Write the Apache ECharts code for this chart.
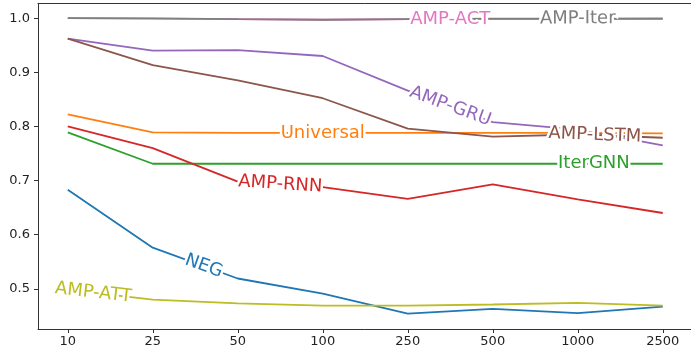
<!DOCTYPE html>
<html>
<head>
<meta charset="utf-8">
<script src="https://cdn.jsdelivr.net/npm/echarts@6/dist/echarts.min.js"></script>
<style>
  html, body { margin: 0; padding: 0; background: #fff; }
  #chart { width: 691px; height: 351px; }
</style>
</head>
<body>
<div id="chart"></div>
<script>
const categories = ["10", "25", "50", "100", "250", "500", "1000", "2500"];
const yTicks = [0.5, 0.6, 0.7, 0.8, 0.9, 1.0];

const neg = [0.683, 0.576, 0.519, 0.491, 0.454, 0.463, 0.455, 0.467];
const universal = [0.822, 0.789, 0.788, 0.788, 0.788, 0.788, 0.788, 0.787];
const iterGnn = [0.789, 0.731, 0.731, 0.731, 0.731, 0.731, 0.731, 0.731];
const ampRnn = [0.800, 0.760, 0.698, 0.688, 0.666, 0.693, 0.665, 0.640];
const ampGru = [0.962, 0.940, 0.941, 0.930, 0.866, 0.808, 0.794, 0.765];
const ampLstm = [0.962, 0.913, 0.885, 0.852, 0.796, 0.781, 0.785, 0.779];
const ampAct = [1.0, 0.999, 0.998, 0.997, 0.998, 0.998, 0.998, 0.998];
const ampIter = [1.0, 0.9995, 0.998, 0.997, 0.998, 0.999, 0.999, 0.9995];
const ampAtt = [0.498, 0.480, 0.473, 0.469, 0.469, 0.471, 0.474, 0.469];

// where each inline label sits, as a (fractional) category index
const lines = [
  { name: "NEG", data: neg, color: "#1f77b4", labelAt: 1.6 },
  { name: "Universal", data: universal, color: "#ff7f0e", labelAt: 3 },
  { name: "IterGNN", data: iterGnn, color: "#2ca02c", labelAt: 6.19 },
  { name: "AMP-RNN", data: ampRnn, color: "#d62728", labelAt: 2.5 },
  { name: "AMP-GRU", data: ampGru, color: "#9467bd", labelAt: 4.5 },
  { name: "AMP-LSTM", data: ampLstm, color: "#8c564b", labelAt: 6.2 },
  { name: "AMP-ACT", data: ampAct, color: "#e377c2", labelAt: 4.5 },
  { name: "AMP-Iter", data: ampIter, color: "#7f7f7f", labelAt: 6.0 },
  { name: "AMP-ATT", data: ampAtt, color: "#bcbd22", labelAt: 0.3 },
];

const chart = echarts.init(document.getElementById("chart"));

const axisLine = { show: true, onZero: false, lineStyle: { color: "#333", width: 1 } };
const axisText = { color: "#222", fontSize: 13, fontFamily: "DejaVu Sans" };
const xTickValues = categories.map((c, i) => i);
// plot runs past the right edge of the picture, like the cropped original
const xMin = -0.35;
const xMax = 7.45;

chart.setOption({
  animation: false,
  grid: { left: 38, right: -10, top: 3.3, bottom: 22, outerBoundsMode: "none" },
  xAxis: [
    {
      type: "value",
      min: xMin,
      max: xMax,
      splitLine: { show: false },
      axisLine: axisLine,
      axisTick: { show: true, length: 4, lineStyle: { color: "#333" },
        customValues: xTickValues },
      axisLabel: Object.assign({ margin: 6, customValues: xTickValues,
        formatter: (v) => categories[Math.round(v)] }, axisText),
    },
    {
      // top spine
      type: "value",
      position: "top",
      min: xMin,
      max: xMax,
      splitLine: { show: false },
      axisLine: axisLine,
      axisTick: { show: false },
      axisLabel: { show: false },
    },
  ],
  yAxis: {
    type: "value",
    min: 0.4257,
    max: 1.0274,
    splitLine: { show: false },
    axisLine: axisLine,
    axisTick: { show: true, length: 4, lineStyle: { color: "#333" },
      customValues: yTicks },
    axisLabel: Object.assign({ margin: 8, customValues: yTicks,
      formatter: (v) => v.toFixed(1) }, axisText),
  },
  series: lines.map((l) => ({
    type: "line",
    name: l.name,
    data: l.data.map((v, i) => [i, v]),
    symbol: "none",
    lineStyle: { color: l.color, width: 1.8 },
    itemStyle: { color: l.color },
  })),
});

// inline labels along each line, placed through the chart's own scales
const graphics = lines.map((l) => {
  const i0 = Math.min(Math.floor(l.labelAt), l.data.length - 2);
  const f = l.labelAt - i0;
  const v = l.data[i0] + (l.data[i0 + 1] - l.data[i0]) * f;
  const p = chart.convertToPixel({ gridIndex: 0 }, [l.labelAt, v]);
  const a = chart.convertToPixel({ gridIndex: 0 }, [i0, l.data[i0]]);
  const b = chart.convertToPixel({ gridIndex: 0 }, [i0 + 1, l.data[i0 + 1]]);
  const angle = Math.atan2(b[1] - a[1], b[0] - a[0]);
  return {
    type: "text",
    x: p[0],
    y: p[1],
    rotation: -angle,
    z: 100,
    style: {
      text: l.name,
      fill: l.color,
      stroke: "#fff",
      lineWidth: 5,
      font: '18px "DejaVu Sans"',
      textAlign: "center",
      textVerticalAlign: "middle",
      verticalAlign: "middle",
    },
  };
});
chart.setOption({ graphic: graphics });
</script>
</body>
</html>
